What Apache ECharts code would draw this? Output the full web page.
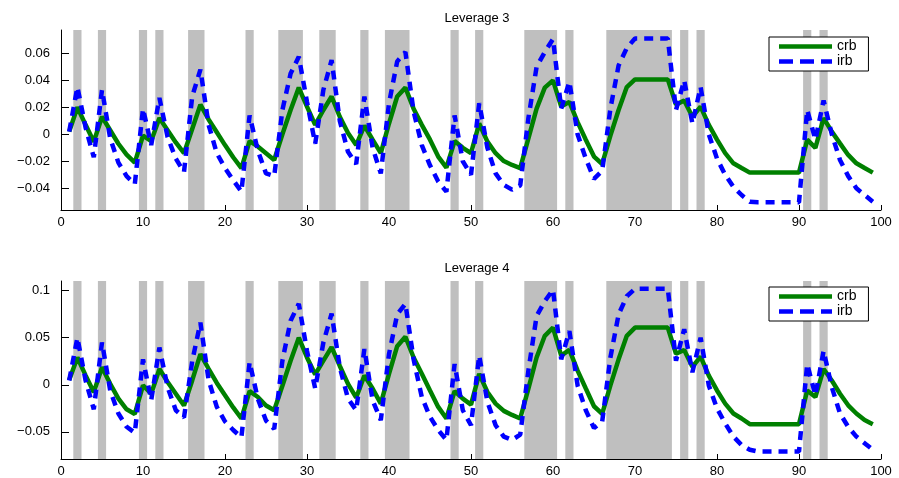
<!DOCTYPE html>
<html>
<head>
<meta charset="utf-8">
<title>Leverage</title>
<script src="https://cdn.jsdelivr.net/npm/echarts@6/dist/echarts.min.js"></script>
<style>
  html, body { margin: 0; padding: 0; background: #fff; }
  #main { width: 899px; height: 478px; }
</style>
</head>
<body>
<div id="main"></div>
<script>
// periods 1..99
var periods = [];
for (var i = 1; i <= 99; i++) periods.push(i);

// shaded (boom) periods, [from, to]
var shades = [[1.5, 2.5], [4.5, 5.5], [9.5, 10.5], [11.5, 12.5], [15.5, 17.5], [22.5, 23.5],
  [26.5, 29.5], [31.5, 33.5], [36.5, 37.5], [39.5, 42.5], [47.5, 48.5], [50.5, 51.5],
  [56.5, 60.5], [61.5, 62.5], [66.5, 74.5], [75.5, 76.5], [77.5, 78.5], [90.5, 91.5], [92.5, 93.5]];

var xTicks = [0, 10, 20, 30, 40, 50, 60, 70, 80, 90, 100];
var yTicks3 = [-0.04, -0.02, 0, 0.02, 0.04, 0.06];
var yTicks4 = [-0.05, 0, 0.05, 0.1];

// Leverage 3
var crb3 = [0.002, 0.020, 0.007, -0.0055, 0.013, 0.003, -0.007, -0.015, -0.021, -0.001,
  -0.005, 0.012, 0.003, -0.006, -0.014, 0.004, 0.022, 0.011, 0.0015, -0.008,
  -0.017, -0.025, -0.005, -0.009, -0.014, -0.019, 0.000, 0.018, 0.0346, 0.0205,
  0.007, 0.018, 0.028, 0.013, 0.001, -0.008, 0.0065, -0.004, -0.014, 0.008,
  0.028, 0.0346, 0.019, 0.007, -0.004, -0.0165, -0.0247, -0.005, -0.010, -0.014,
  0.008, -0.0054, -0.014, -0.0198, -0.0227, -0.025, -0.003, 0.019, 0.0346, 0.040,
  0.0205, 0.024, 0.009, -0.004, -0.0165, -0.022, -0.001, 0.018, 0.035, 0.0407,
  0.0407, 0.0407, 0.0407, 0.0407, 0.022, 0.025, 0.013, 0.0205, 0.007, -0.004,
  -0.014, -0.0215, -0.025, -0.0284, -0.0284, -0.0284, -0.0284, -0.0284, -0.0284, -0.0284,
  -0.004, -0.010, 0.012, 0.002, -0.0067, -0.0153, -0.0215, -0.025, -0.0284];
var irb3 = [0.002, 0.035, 0.005, -0.017, 0.033, -0.003, -0.021, -0.031, -0.037, 0.019,
  -0.008, 0.027, -0.002, -0.018, -0.028, 0.028, 0.048, 0.007, -0.014, -0.025,
  -0.034, -0.0425, 0.014, -0.012, -0.029, -0.031, 0.018, 0.045, 0.0575, 0.024,
  -0.007, 0.033, 0.055, 0.010, -0.013, -0.022, 0.028, -0.010, -0.029, 0.023,
  0.054, 0.061, 0.017, -0.008, -0.023, -0.035, -0.0425, 0.014, -0.020, -0.030,
  0.023, -0.010, -0.029, -0.0375, -0.041, -0.038, 0.012, 0.050, 0.061, 0.0706,
  0.019, 0.039, 0.000, -0.018, -0.033, -0.027, 0.019, 0.051, 0.064, 0.071,
  0.071, 0.071, 0.071, 0.071, 0.018, 0.040, 0.008, 0.035, 0.000, -0.018,
  -0.030, -0.039, -0.045, -0.050, -0.0504, -0.0504, -0.0504, -0.0504, -0.0504, -0.0504,
  0.018, -0.004, 0.025, 0.000, -0.019, -0.031, -0.040, -0.045, -0.050];

// Leverage 4
var crb4 = [0.005, 0.029, 0.010, -0.008, 0.0186, 0.001, -0.0147, -0.026, -0.031, -0.0007,
  -0.0095, 0.0168, 0.003, -0.0095, -0.022, 0.0046, 0.0326, 0.017, 0.002, -0.011,
  -0.024, -0.0358, -0.0067, -0.013, -0.022, -0.027, -0.001, 0.0256, 0.050, 0.029,
  0.011, 0.0256, 0.040, 0.020, 0.001, -0.0137, 0.0098, -0.004, -0.020, 0.0116,
  0.041, 0.051, 0.029, 0.0116, -0.006, -0.0235, -0.0358, -0.0067, -0.0147, -0.021,
  0.0116, -0.0077, -0.020, -0.0277, -0.032, -0.0358, -0.004, 0.029, 0.052, 0.0607,
  0.031, 0.037, 0.015, -0.004, -0.0228, -0.031, -0.0007, 0.027, 0.052, 0.0607,
  0.0607, 0.0607, 0.0607, 0.0607, 0.033, 0.037, 0.019, 0.030, 0.0098, -0.006,
  -0.020, -0.0305, -0.0358, -0.0418, -0.0418, -0.0418, -0.0418, -0.0418, -0.0418, -0.0418,
  -0.006, -0.013, 0.0168, 0.0046, -0.0095, -0.0218, -0.0305, -0.0375, -0.0418];
var irb4 = [0.0046, 0.050, 0.0046, -0.026, 0.045, -0.006, -0.0305, -0.0446, -0.051, 0.027,
  -0.0165, 0.0396, -0.0025, -0.027, -0.0347, 0.025, 0.066, 0.005, -0.0235, -0.039,
  -0.048, -0.0558, 0.024, -0.0147, -0.038, -0.047, 0.0256, 0.068, 0.086, 0.036,
  -0.004, 0.045, 0.0755, 0.0186, -0.0147, -0.027, 0.038, -0.0165, -0.0375, 0.0326,
  0.0747, 0.086, 0.027, -0.013, -0.034, -0.048, -0.0586, 0.022, -0.027, -0.043,
  0.031, -0.018, -0.043, -0.055, -0.0586, -0.053, 0.015, 0.073, 0.0888, 0.101,
  0.027, 0.057, -0.0007, -0.027, -0.046, -0.039, 0.029, 0.0747, 0.094, 0.102,
  0.102, 0.102, 0.102, 0.102, 0.0256, 0.059, 0.0133, 0.050, -0.0007, -0.025,
  -0.041, -0.055, -0.064, -0.069, -0.0709, -0.0709, -0.0709, -0.0709, -0.0709, -0.0709,
  0.022, -0.0112, 0.036, -0.0025, -0.0305, -0.0446, -0.055, -0.062, -0.069];

var FONT = "'Liberation Sans', Arial, Helvetica, sans-serif";

// legend glyphs: solid bar and three dashes
var ICON_SOLID = 'path://M0,0h53v4.5h-53z';
var ICON_DASH = 'path://M0,0h14v4.5h-14z M21,0h14v4.5h-14z M42,0h11v4.5h-11z';

function pairs(ys) {
  return periods.map(function (x, k) { return [x, ys[k]]; });
}

function fmt(v) {
  if (v === 0) return '0';
  return (v < 0 ? '\u2212' : '') + String(Math.abs(v));
}

var shadeData = shades.map(function (s) { return [{ xAxis: s[0] }, { xAxis: s[1] }]; });

function xAxisCfg(idx) {
  return {
    type: 'value', gridIndex: idx, min: 0, max: 100, interval: 10,
    axisLine: { show: true, onZero: false, lineStyle: { color: '#000', width: 1 } },
    axisTick: { show: true, inside: true, length: 5, lineStyle: { color: '#000' } },
    axisLabel: { color: '#000', fontSize: 13, fontFamily: FONT, margin: 6,
      customValues: xTicks },
    splitLine: { show: false }
  };
}

function yAxisCfg(idx, min, max, ticks) {
  return {
    type: 'value', gridIndex: idx, min: min, max: max,
    axisLine: { show: true, lineStyle: { color: '#000', width: 1 } },
    axisTick: { show: true, inside: true, length: 8, lineStyle: { color: '#000' },
      customValues: ticks },
    axisLabel: { color: '#000', fontSize: 13, fontFamily: FONT, margin: 11,
      customValues: ticks, formatter: fmt },
    splitLine: { show: false }
  };
}

function crbSeries(idx, ys) {
  return {
    name: 'crb', type: 'line', xAxisIndex: idx, yAxisIndex: idx,
    data: pairs(ys), symbol: 'none', z: 3,
    lineStyle: { color: '#008000', width: 4.5 }, itemStyle: { color: '#008000' },
    markArea: { silent: true, itemStyle: { color: '#bfbfbf', opacity: 1 }, data: shadeData }
  };
}

function irbSeries(idx, ys) {
  return {
    name: 'irb', type: 'line', xAxisIndex: idx, yAxisIndex: idx,
    data: pairs(ys), symbol: 'none', z: 4,
    lineStyle: { color: '#0000ff', width: 4.5, type: [9, 7], cap: 'butt' },
    itemStyle: { color: '#0000ff' }
  };
}

function legendCfg(top) {
  return {
    data: [{ name: 'crb', icon: ICON_SOLID }, { name: 'irb', icon: ICON_DASH }],
    orient: 'vertical', left: 769, top: top,
    padding: [2, 12, 2, 10], itemGap: 0, itemWidth: 53, itemHeight: 5,
    backgroundColor: '#fff', borderColor: '#000', borderWidth: 1, borderRadius: 0,
    textStyle: { color: '#000', fontSize: 14, fontFamily: FONT, lineHeight: 15 },
    selectedMode: false
  };
}

var chart = echarts.init(document.getElementById('main'));
chart.setOption({
  animation: false,
  backgroundColor: '#fff',
  title: [
    { text: 'Leverage 3', left: 472, top: 7, textAlign: 'center',
      textStyle: { fontSize: 13, fontWeight: 'normal', color: '#000', fontFamily: FONT } },
    { text: 'Leverage 4', left: 472, top: 257, textAlign: 'center',
      textStyle: { fontSize: 13, fontWeight: 'normal', color: '#000', fontFamily: FONT } }
  ],
  legend: [legendCfg(37), legendCfg(287)],
  grid: [
    { left: 61, top: 30, width: 820, height: 180 },
    { left: 61, top: 281, width: 820, height: 180 }
  ],
  xAxis: [xAxisCfg(0), xAxisCfg(1)],
  yAxis: [yAxisCfg(0, -0.0561, 0.0773, yTicks3), yAxisCfg(1, -0.0788, 0.1102, yTicks4)],
  series: [crbSeries(0, crb3), irbSeries(0, irb3), crbSeries(1, crb4), irbSeries(1, irb4)]
});
</script>
</body>
</html>
